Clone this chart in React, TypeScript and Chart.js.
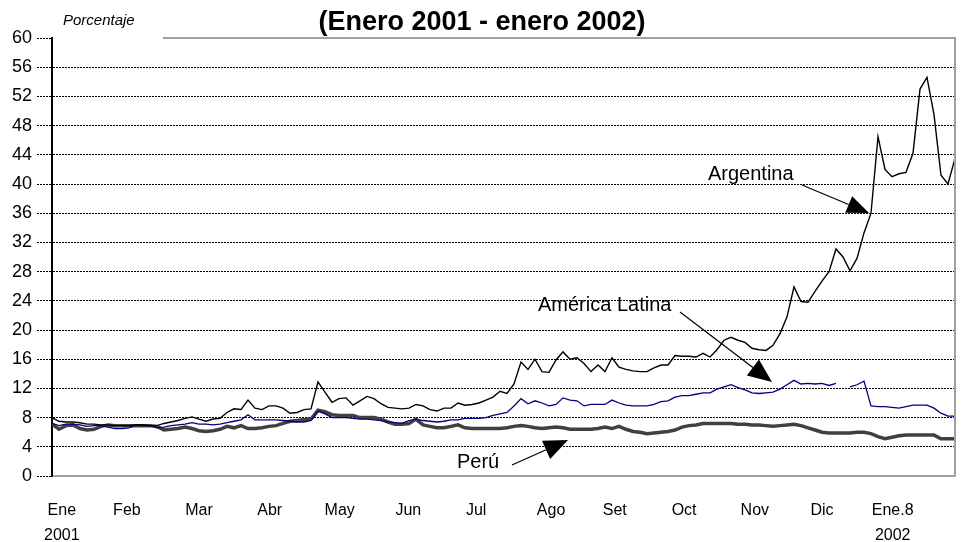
import React, { useEffect, useRef } from 'react';
import { Chart, registerables } from 'chart.js';

Chart.register(...registerables);

// Weekly-ish samples, Jan 2001 – Jan 8 2002 (percent)
const argentina = [
  8.0, 7.5, 7.4, 7.4, 7.3, 7.1, 7.1, 7.0, 7.0, 6.9,
  6.9, 6.9, 7.0, 7.0, 6.9, 6.9, 7.2, 7.4, 7.6, 7.9,
  8.1, 7.8, 7.5, 7.8, 7.9, 8.7, 9.2, 9.1, 10.4, 9.3,
  9.1, 9.6, 9.6, 9.3, 8.6, 8.7, 9.1, 9.2, 12.9, 11.5,
  10.1, 10.6, 10.7, 9.7, 10.3, 10.9, 10.6, 9.9, 9.4, 9.3,
  9.2, 9.3, 9.8, 9.6, 9.1, 8.9, 9.3, 9.3, 10.0, 9.7,
  9.8, 10.0, 10.4, 10.8, 11.6, 11.3, 12.6, 15.6, 14.6, 16.0,
  14.3, 14.2, 15.9, 17.0, 16.0, 16.2, 15.4, 14.3, 15.2, 14.3,
  16.2, 14.9, 14.6, 14.4, 14.3, 14.3, 14.8, 15.2, 15.2, 16.5,
  16.4, 16.4, 16.3, 16.8, 16.3, 17.3, 18.6, 19.0, 18.6, 18.3,
  17.5, 17.3, 17.2, 17.9, 19.5, 21.8, 25.9, 23.9, 23.8, 25.3,
  26.7, 28.0, 31.1, 30.0, 28.1, 29.8, 33.3, 36.0, 46.5, 42.0,
  41.0, 41.4, 41.6, 44.2, 53.0, 54.6, 49.5, 41.2, 40.0, 43.5,
];

const americaLatina = [
  7.2, 6.9, 7.1, 7.1, 7.0, 6.8, 6.9, 6.9, 6.7, 6.5,
  6.5, 6.6, 7.0, 6.9, 6.9, 6.6, 6.7, 6.9, 7.0, 7.1,
  7.3, 7.1, 7.1, 7.0, 7.1, 7.3, 7.5, 7.7, 8.4, 7.7,
  7.7, 7.7, 7.7, 7.6, 7.5, 7.4, 7.4, 7.6, 8.9, 8.5,
  8.0, 8.0, 8.0, 7.9, 7.8, 7.8, 7.7, 7.6, 7.4, 7.3,
  7.2, 7.6, 7.8, 7.6, 7.5, 7.4, 7.5, 7.7, 7.7, 7.9,
  7.9, 7.9, 8.0, 8.3, 8.5, 8.7, 9.6, 10.6, 9.9, 10.3,
  10.0, 9.6, 9.8, 10.7, 10.4, 10.3, 9.6, 9.8, 9.8, 9.8,
  10.4, 10.0, 9.7, 9.6, 9.6, 9.6, 9.8, 10.2, 10.3, 10.8,
  11.0, 11.0, 11.2, 11.4, 11.4, 11.9, 12.2, 12.5, 12.1, 11.8,
  11.4, 11.3, 11.4, 11.5, 11.9, 12.5, 13.1, 12.6, 12.7, 12.6,
  12.7, 12.4, 12.7, null, 12.2, 12.5, 13.0, 9.6, 9.5, 9.5,
  9.4, 9.3, 9.5, 9.7, 9.7, 9.7, 9.3, 8.6, 8.2, 8.2,
];

const peru = [
  7.1, 6.4, 6.9, 7.0, 6.5, 6.3, 6.4, 6.8, 7.0, 6.9,
  6.9, 6.9, 6.9, 6.9, 6.9, 6.8, 6.3, 6.4, 6.5, 6.7,
  6.5, 6.2, 6.1, 6.2, 6.4, 6.8, 6.6, 6.9, 6.5, 6.5,
  6.6, 6.8, 6.9, 7.2, 7.5, 7.6, 7.7, 7.8, 9.0, 8.8,
  8.4, 8.3, 8.3, 8.3, 8.0, 8.0, 8.0, 7.8, 7.4, 7.1,
  7.1, 7.2, 7.8, 7.0, 6.8, 6.6, 6.6, 6.8, 7.0, 6.6,
  6.5, 6.5, 6.5, 6.5, 6.5, 6.6, 6.8, 6.9, 6.8, 6.6,
  6.5, 6.6, 6.7, 6.6, 6.4, 6.4, 6.4, 6.4, 6.5, 6.7,
  6.5, 6.8, 6.4, 6.1, 6.0, 5.8, 5.9, 6.0, 6.1, 6.3,
  6.7, 6.9, 7.0, 7.2, 7.2, 7.2, 7.2, 7.2, 7.1, 7.1,
  7.0, 7.0, 6.9, 6.8, 6.9, 7.0, 7.1, 6.9, 6.6, 6.3,
  6.0, 5.9, 5.9, 5.9, 5.9, 6.0, 6.0, 5.8, 5.4, 5.1,
  5.3, 5.5, 5.6, 5.6, 5.6, 5.6, 5.6, 5.1, 5.1, 5.1,
];

const monthLabels: (string | string[])[] = [
  ['Ene', '2001'], 'Feb', 'Mar', 'Abr', 'May', 'Jun', 'Jul',
  'Ago', 'Set', 'Oct', 'Nov', 'Dic', ['Ene.8', '2002'],
];
// positions of the month labels, in sample-index units
const monthTickPos = [1.4, 10.7, 21, 31.1, 41.1, 50.9, 60.6, 71.3, 80.4, 90.3, 100.4, 110, 120.1];

const yMin = 0;
const yMax = 60;
const yStep = 4;

const titleText = '(Enero 2001 - enero 2002)';
const yAxisTitle = 'Porcentaje';
const seriesNames = ['Argentina', 'América Latina', 'Perú'];

const FONT = "'Liberation Sans', Arial, Helvetica, sans-serif";

function drawArrow(ctx: CanvasRenderingContext2D, x1: number, y1: number, x2: number, y2: number, headLen: number, headW: number) {
  const ang = Math.atan2(y2 - y1, x2 - x1);
  const bx = x2 - headLen * Math.cos(ang);
  const by = y2 - headLen * Math.sin(ang);
  ctx.beginPath();
  ctx.moveTo(x1, y1);
  ctx.lineTo(bx, by);
  ctx.strokeStyle = '#000';
  ctx.lineWidth = 1.2;
  ctx.stroke();
  ctx.beginPath();
  ctx.moveTo(x2, y2);
  ctx.lineTo(bx + headW * Math.sin(ang), by - headW * Math.cos(ang));
  ctx.lineTo(bx - headW * Math.sin(ang), by + headW * Math.cos(ang));
  ctx.closePath();
  ctx.fillStyle = '#000';
  ctx.fill();
}

const decorPlugin = {
  id: 'decor',
  afterDraw(chart: any) {
    const { ctx, chartArea: a } = chart;
    ctx.save();
    // plot-area frame (top + right), grey
    ctx.strokeStyle = '#a0a0a0';
    ctx.lineWidth = 2;
    ctx.beginPath();
    ctx.moveTo(163, a.top);
    ctx.lineTo(a.right, a.top);
    ctx.lineTo(a.right, a.bottom);
    ctx.stroke();

    ctx.fillStyle = '#000';
    ctx.textBaseline = 'alphabetic';
    ctx.textAlign = 'center';
    ctx.font = `bold 27px ${FONT}`;
    ctx.fillText(titleText, 482, 30);

    ctx.textAlign = 'left';
    ctx.font = `italic 15px ${FONT}`;
    ctx.fillText(yAxisTitle, 63, 25);

    ctx.font = `20px ${FONT}`;
    ctx.textBaseline = 'middle';
    ctx.fillText(seriesNames[0], 708, 174);
    ctx.fillText(seriesNames[1], 538, 305);
    ctx.fillText(seriesNames[2], 457, 462);

    drawArrow(ctx, 802, 185, 869, 213, 22, 9);
    drawArrow(ctx, 680, 312, 772, 382, 24, 10);
    drawArrow(ctx, 512, 465, 568, 440, 24, 10);
    ctx.restore();
  },
};

export default function App() {
  const ref = useRef<HTMLCanvasElement | null>(null);

  useEffect(() => {
    if (!ref.current) return;
    const toPts = (arr: (number | null)[]) => arr.map((v, i) => ({ x: i, y: v }));
    const chart = new Chart(ref.current, {
      type: 'line',
      data: {
        datasets: [
          {
            label: seriesNames[0],
            data: toPts(argentina) as any,
            borderColor: '#000000',
            borderWidth: 1.4,
            pointRadius: 0,
            tension: 0,
            order: 1,
          },
          {
            label: seriesNames[1],
            data: toPts(americaLatina) as any,
            borderColor: '#000080',
            borderWidth: 1.3,
            pointRadius: 0,
            tension: 0,
            spanGaps: false,
            order: 2,
          },
          {
            label: seriesNames[2],
            data: toPts(peru) as any,
            borderColor: '#404040',
            borderWidth: 3.5,
            pointRadius: 0,
            tension: 0,
            order: 3,
          },
        ],
      },
      options: {
        responsive: false,
        animation: false,
        devicePixelRatio: 1,
        layout: { padding: { top: 38, right: 20, left: 0, bottom: 0 } },
        plugins: {
          legend: { display: false },
          title: { display: false },
          tooltip: { enabled: false },
        },
        scales: {
          x: {
            type: 'linear',
            min: 0,
            max: argentina.length - 1,
            grid: { display: false, drawTicks: false },
            border: { display: true, color: '#a0a0a0', width: 2 },
            afterBuildTicks: (scale: any) => {
              scale.ticks = monthTickPos.map((v) => ({ value: v }));
            },
            afterFit: (scale: any) => {
              scale.height = 66;
            },
            ticks: {
              autoSkip: false,
              maxRotation: 0,
              minRotation: 0,
              padding: 22,
              color: '#000',
              font: { family: FONT, size: 16, lineHeight: 1.56 },
              callback: (_v: any, i: number) => monthLabels[i],
            },
          },
          y: {
            min: yMin,
            max: yMax,
            afterFit: (scale: any) => {
              scale.width = 52;
            },
            border: { display: true, color: '#000', width: 2, dash: [2, 1] },
            grid: {
              color: (c: any) =>
                c.tick && (c.tick.value === yMin || c.tick.value === yMax) ? 'rgba(0,0,0,0)' : '#000',
              lineWidth: 1,
              tickLength: 15,
              tickColor: '#000',
              tickBorderDash: [2, 1],
            },
            ticks: {
              stepSize: yStep,
              padding: 5,
              color: '#000',
              font: { family: FONT, size: 18 },
            },
          },
        },
      },
      plugins: [decorPlugin],
    });
    return () => chart.destroy();
  }, []);

  return (
    <div style={{ position: 'fixed', left: 0, top: 0, width: 975, height: 542, background: '#fff' }}>
      <canvas ref={ref} width={975} height={542} style={{ width: 975, height: 542, display: 'block' }} />
    </div>
  );
}
